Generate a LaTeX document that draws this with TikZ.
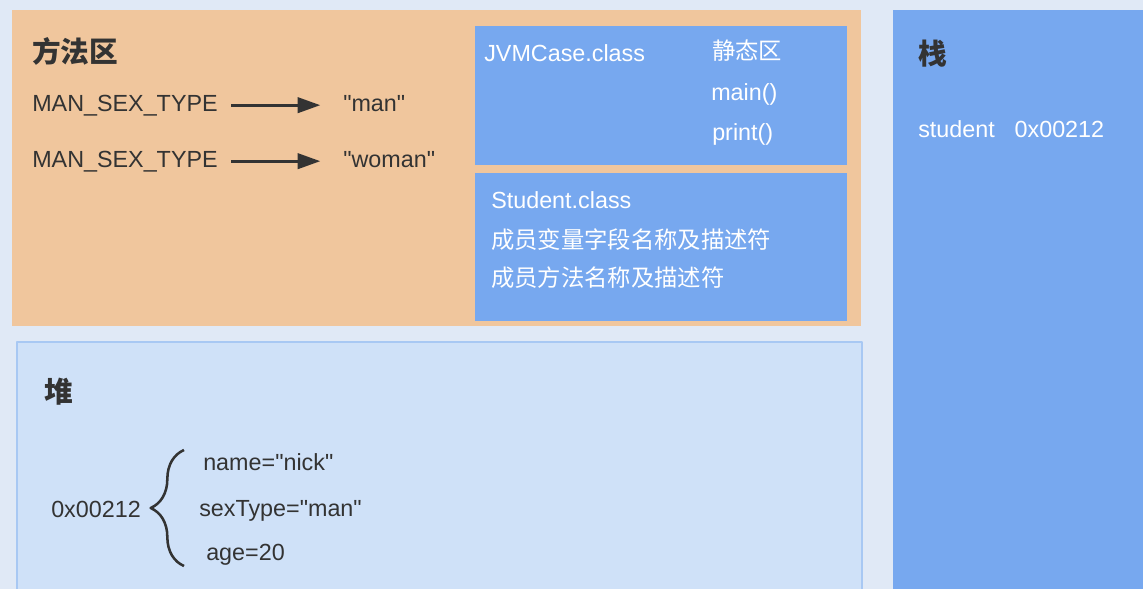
\documentclass[tikz,border=0pt]{standalone}
\usepackage{fontspec}
\setmainfont{Liberation Sans}[Ligatures=TeXOff]
\newfontfamily\cjk{Noto Sans CJK SC}
\usetikzlibrary{arrows.meta,decorations.pathreplacing}

\definecolor{bgblue}{HTML}{E0E9F6}
\definecolor{methodarea}{HTML}{F0C69D}
\definecolor{classblue}{HTML}{77A8EF}
\definecolor{heapfill}{HTML}{CFE1F8}
\definecolor{heapedge}{HTML}{A8C8F3}
\definecolor{ink}{HTML}{333333}

\begin{document}
\begin{tikzpicture}[
  x=0.75pt, y=-0.75pt,
  line join=round,
  txt/.style={font=\fontsize{17.5}{21}\selectfont, text=ink, inner sep=0pt, anchor=base west},
  wtxt/.style={txt, text=white},
  wcjk/.style={wtxt, font=\cjk\fontsize{17.5}{21}\selectfont},
  title/.style={font=\cjk\bfseries\fontsize{21.5}{26}\selectfont, text=ink, inner sep=0pt, anchor=base west},
  ptr/.style={-{Triangle[length=17pt,width=11.5pt]}, line width=2.2pt, draw=ink,
              shorten <=10pt, shorten >=17pt},
  curly/.style={decorate, decoration={brace, amplitude=25pt}, line width=1.9pt, draw=ink},
]
\useasboundingbox (0,0) rectangle (1143,589);

% ── the regions ───────────────────────────────────────────────────────────
\fill[bgblue] (0,0) rectangle (1143,589);
\fill[methodarea] (12,10) rectangle (861,326);
\fill[classblue] (475,26) rectangle (847,165);
\fill[classblue] (475,173) rectangle (847,321);
\draw[heapedge, fill=heapfill, line width=1.5pt] (17,342) rectangle (862,600);
\fill[classblue] (893,10) rectangle (1150,600);

% ── the method area ───────────────────────────────────────────────────────
\node[title] (methodT) at (32,62) {方法区};
\foreach \i/\y/\v in {1/111/"man", 2/167/"woman"} {
  \node[txt] (key\i) at (32,\y) {MAN\_SEX\_TYPE};
  \node[txt] (val\i) at (343,\y) {\v};
  \draw[ptr] (key\i.east) -- (key\i.east -| val\i.west);
}

% ── the two classes ───────────────────────────────────────────────────────
\node[wtxt] (jvm) at (484,61) {JVMCase.class};
\node[wcjk] (static) at (712,60) {静态区};
\node[wtxt] (mainM) at (711,100) {main()};
\node[wtxt] (printM) at (712,140) {print()};

\node[wtxt] (stu) at (491,208) {Student.class};
\node[wcjk] (fields) at (491,248) {成员变量字段名称及描述符};
\node[wcjk] (methods) at (491,286) {成员方法名称及描述符};

% ── the stack ─────────────────────────────────────────────────────────────
\node[title] (stackT) at (918,64) {栈};
\node[wtxt] (ref) at (918,137) {student\hspace{0.85em}0x00212};

% ── the heap ──────────────────────────────────────────────────────────────
\node[title] (heapT) at (44,402) {堆};
\node[txt] (addr) at (51,517) {0x00212};
\foreach \n/\x/\y/\t in {fName/203/470/{name="nick"}, fSex/199/516/{sexType="man"},
                        fAge/206/560/{age=20}}
  { \node[txt] (\n) at (\x,\y) {\t}; }
\coordinate (braceTop) at (184,450);
\coordinate (braceBot) at (184,566);
\draw[curly] (braceBot) -- (braceTop);

\end{tikzpicture}
\end{document}
